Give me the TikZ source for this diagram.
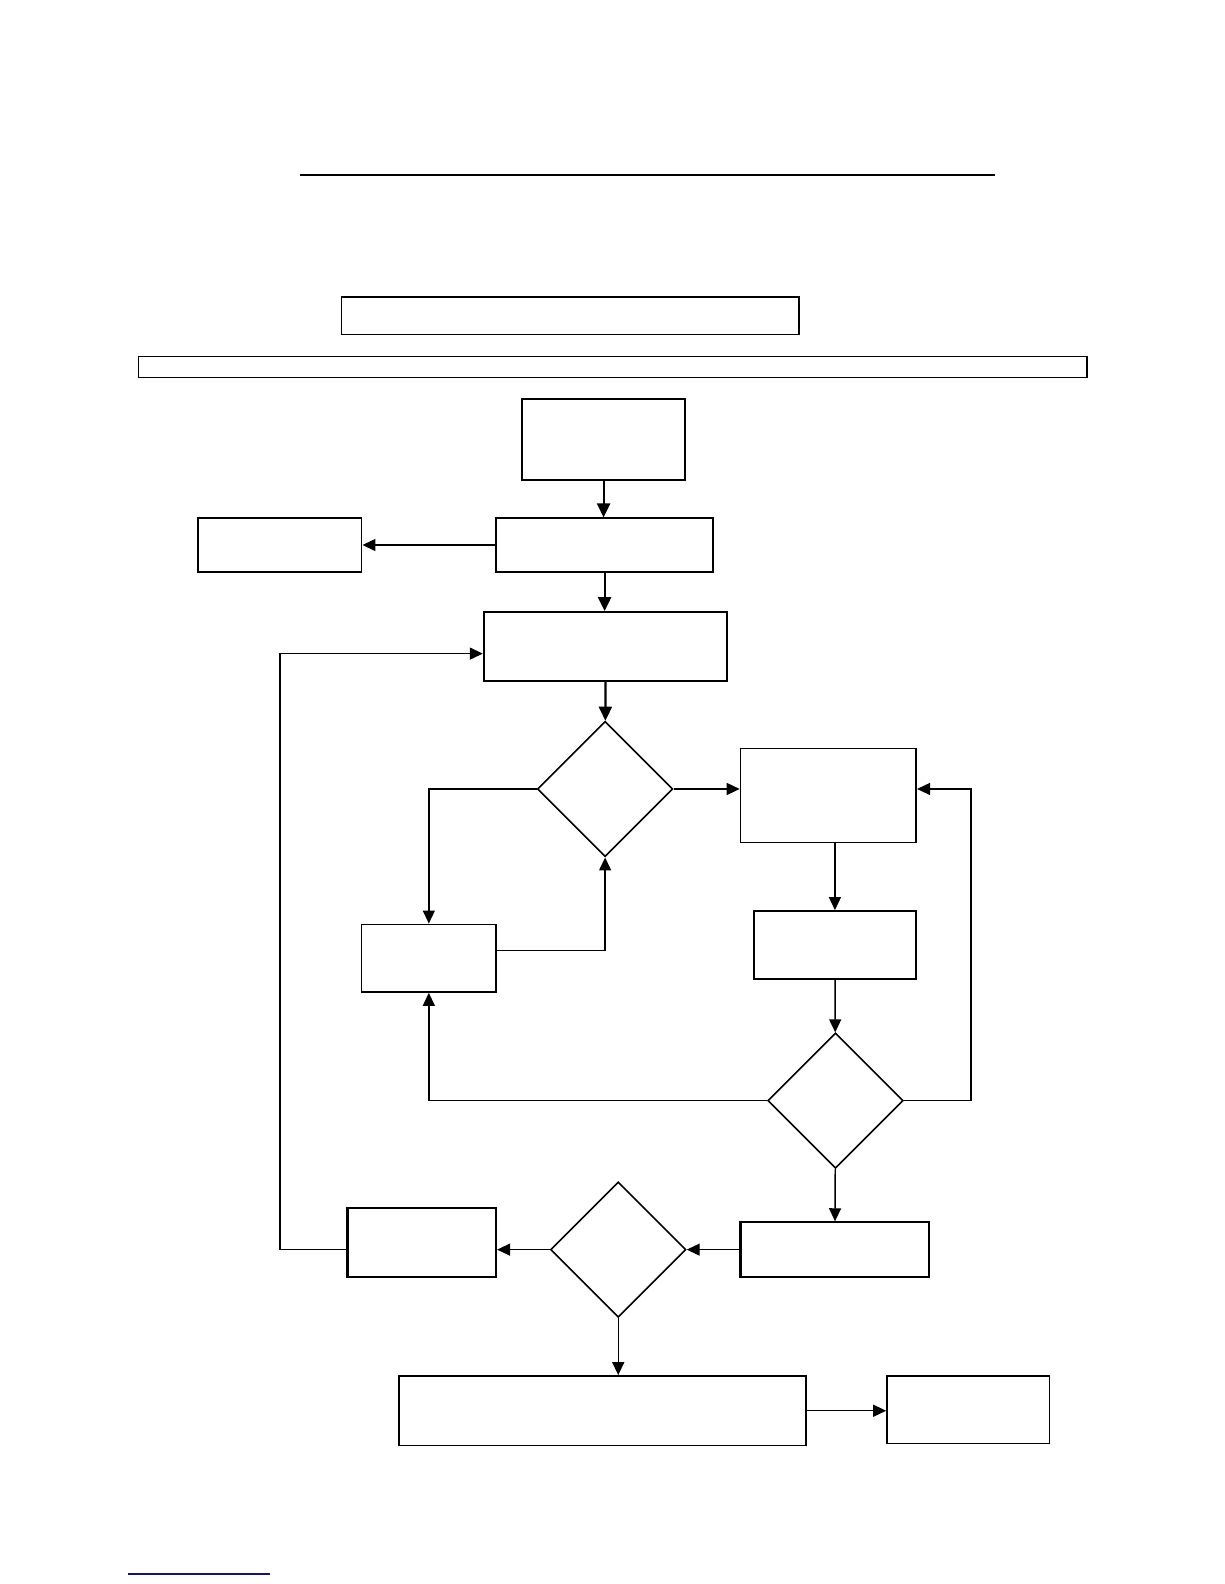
\documentclass[tikz,border=0pt]{standalone}
\usetikzlibrary{arrows.meta,positioning,shapes.geometric,calc}
\usepackage{xcolor}
\definecolor{linkBlue}{RGB}{20,20,120}
\newcommand{\px}{0.505pt}
\tikzset{
    box/.style={rectangle,draw=black,line width=0.8pt,inner sep=0pt},
    tbox/.style={box,line width=1.1pt},
    dec/.style={diamond,draw=black,line width=0.8pt,inner sep=0pt,aspect=1,
        minimum width=134*\px,minimum height=134*\px},
    arr/.style={-{Triangle[length=6.5pt,width=6pt]},line width=0.7pt},
    barr/.style={-{Triangle[length=7pt,width=6.5pt]},line width=1.1pt}
}
\begin{document}
\begin{tikzpicture}[x=\px,y=-\px]
    \useasboundingbox (0,0) rectangle (1212,1568);
    % heading
    \draw[line width=1.1pt] (297,173) -- (985,173);
    \node[box,minimum width=453*\px,minimum height=37*\px] (subt) at (564.5,312.5) {};
    \node[box,line width=0.6pt,minimum width=939*\px,minimum height=21*\px] (band) at (606.5,363.5) {};

    % upper chain
    \node[box,minimum width=161*\px,minimum height=80*\px] (start) at (597.5,435) {};
    \node[box,minimum width=215*\px,minimum height=53*\px] (recv) at (598.5,539.5) {};
    \node[box,minimum width=162*\px,minimum height=53*\px] (reject) at (277,539.5) {};
    \node[tbox,minimum width=241*\px,minimum height=68*\px] (prep) at (599.5,640) {};
    \node[dec] (chk) at (599,781) {};

    % loop boxes
    \node[box,minimum width=174*\px,minimum height=93*\px] (work) at (820,787.5) {};
    \node[box,minimum width=133*\px,minimum height=67*\px] (fix) at (424.5,948.5) {};
    \node[tbox,minimum width=161*\px,minimum height=67*\px] (test) at (826.5,935.5) {};
    \node[dec] (pass) at (827,1089.5) {};
    \node[tbox,minimum width=187*\px,minimum height=54*\px] (rep) at (826.5,1237) {};
    \node[dec] (done) at (612,1237) {};
    \node[tbox,minimum width=147*\px,minimum height=68*\px] (next) at (417.5,1230) {};

    % end
    \node[box,minimum width=403*\px,minimum height=69*\px] (fin) at (596.5,1396.5) {};
    \node[box,minimum width=161*\px,minimum height=67*\px] (arch) at (958.5,1395.5) {};

    \draw[barr] (start) -- (start.south |- recv.north);
    \draw[arr] (recv) -- (reject);
    \draw[barr] (recv) -- (recv.south |- prep.north);
    \draw[barr] (prep) -- (chk);
    \draw[arr] (chk.east) -- (chk.east -| work.west);
    \draw[arr] (chk.west) -| (fix.north);
    \draw[arr] (fix.east |- 0,941) -| (chk.south);
    \draw[arr] (work.south -| test) -- (test.north);
    \draw[arr] (test) -- (pass);
    \draw[arr] (pass.west) -| (fix.south);
    \coordinate (rloop) at (961,1089.5);
    \draw[arr] (pass.east) -- (rloop) |- (chk.east -| work.east);
    \draw[arr] (pass) -- (rep);
    \draw[arr] (rep) -- (done);
    \draw[arr] (done) -- (done.west -| next.east);
    \coordinate (lloop) at (277,1237);
    \draw[arr] (done.west -| next.west) -- (lloop) |- (prep.west |- 0,647);
    \draw[arr] (done.south) -- (done.south |- fin.north);
    \draw[arr] (fin) -- (fin.east -| arch.west);

    % footer link
    \draw[linkBlue,line width=0.9pt] (127,1558) -- (267,1558);
\end{tikzpicture}
\end{document}
